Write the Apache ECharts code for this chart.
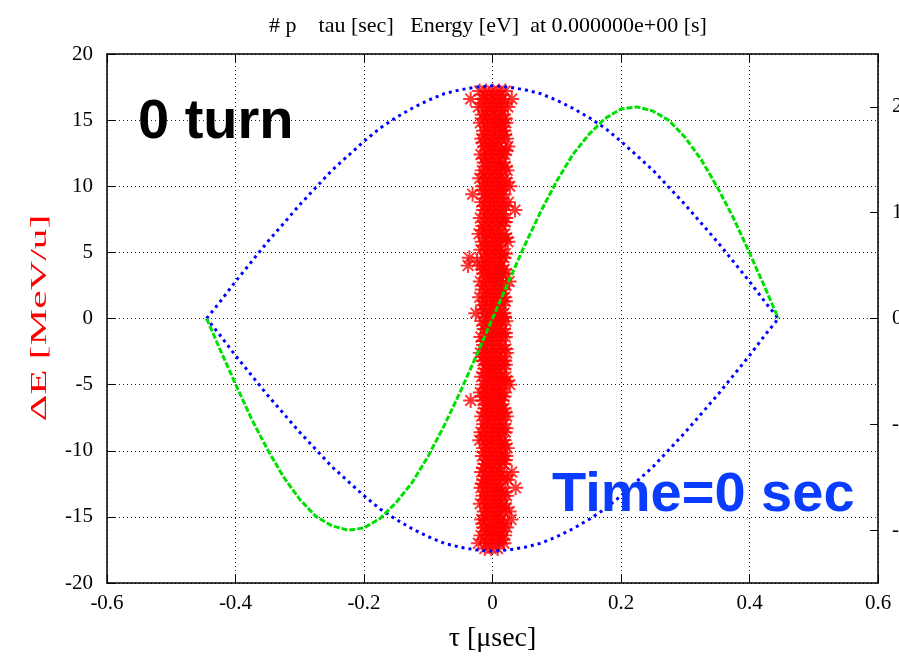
<!DOCTYPE html>
<html>
<head>
<meta charset="utf-8">
<script src="https://cdn.jsdelivr.net/npm/echarts@6/dist/echarts.min.js"></script>
<style>
html,body{margin:0;padding:0;background:#fff;}
#chart{width:899px;height:659px;}
</style>
</head>
<body>
<div id="chart"></div>
<script>
// ---- tick labels ----
const xTickLabels = ['-0.6','-0.4','-0.2','0','0.2','0.4','0.6'];
const yTickLabels = ['-20','-15','-10','-5','0','5','10','15','20'];
const y2TickValues = [-20, -10, 0, 10, 20];

// ---- separatrix (blue), tau [usec] vs dE [MeV/u] ----
const sepTau = [-0.445,-0.425,-0.4,-0.375,-0.35,-0.325,-0.3,-0.275,-0.25,-0.225,-0.2,-0.175,-0.15,-0.125,-0.1,-0.075,-0.05,-0.025,0,
  0.025,0.05,0.075,0.1,0.125,0.15,0.175,0.2,0.225,0.25,0.275,0.3,0.325,0.35,0.375,0.4,0.425,0.445];
const sepUpper = [0,1.2,2.8,4.3,5.8,7.2,8.6,9.9,11.2,12.3,13.4,14.4,15.2,15.9,16.5,17.0,17.3,17.5,17.6,
  17.5,17.3,17.0,16.5,15.9,15.2,14.4,13.4,12.3,11.2,9.9,8.6,7.2,5.8,4.3,2.8,1.2,0];
const sepLower = [0,-1.2,-2.8,-4.3,-5.8,-7.2,-8.6,-9.9,-11.2,-12.3,-13.4,-14.4,-15.2,-15.9,-16.5,-17.0,-17.3,-17.5,-17.6,
  -17.5,-17.3,-17.0,-16.5,-15.9,-15.2,-14.4,-13.4,-12.3,-11.2,-9.9,-8.6,-7.2,-5.8,-4.3,-2.8,-1.2,0];

// ---- RF voltage (green), right axis ----
const rfTau = sepTau;
const rfValue = [0,-2.8,-6.2,-9.5,-12.4,-15.0,-17.1,-18.7,-19.6,-20.0,-19.8,-18.9,-17.4,-15.5,-13.0,-10.1,-6.9,-3.5,0,
  3.5,6.9,10.1,13.0,15.5,17.4,18.9,19.8,20.0,19.6,18.7,17.1,15.0,12.4,9.5,6.2,2.8,0];

// ---- particles: rows of [dE, [tau values]] ----
const particleRowsA = [
 [17.2,[-0.020,-0.010,0.000,0.010,0.020]],
 [16.6,[-0.034,-0.015,-0.004,0.006,0.016,0.030]],
 [16.0,[-0.022,-0.009,0.002,0.012,0.024]],
 [15.4,[-0.016,-0.005,0.005,0.015]],
 [14.8,[-0.019,-0.008,0.003,0.013,0.021]],
 [14.2,[-0.014,-0.003,0.008,0.018]],
 [13.6,[-0.017,-0.006,0.004,0.014,0.022]],
 [13.0,[-0.012,-0.002,0.009,0.024]],
 [12.4,[-0.018,-0.007,0.003,0.013,0.019]],
 [11.8,[-0.013,-0.002,0.008,0.017]],
 [11.2,[-0.016,-0.006,0.005,0.015,0.023]],
 [10.6,[-0.020,-0.009,0.001,0.011,0.020]],
 [10.0,[-0.015,-0.004,0.006,0.016,0.027]],
 [9.4,[-0.031,-0.012,-0.002,0.008,0.018]],
 [8.8,[-0.017,-0.006,0.004,0.014,0.025]],
 [8.2,[-0.014,-0.004,0.007,0.017,0.035]],
 [7.6,[-0.019,-0.008,0.002,0.012,0.021]],
 [7.0,[-0.015,-0.005,0.006,0.016]],
 [6.4,[-0.021,-0.010,0.000,0.010,0.019]],
 [5.8,[-0.016,-0.006,0.004,0.014,0.024]],
 [5.2,[-0.018,-0.008,0.003,0.013]],
 [4.6,[-0.036,-0.013,-0.003,0.008,0.018]],
 [4.0,[-0.038,-0.017,-0.006,0.004,0.014]],
 [3.4,[-0.014,-0.004,0.006,0.016,0.022]],
 [2.8,[-0.019,-0.009,0.002,0.012,0.026]],
 [2.2,[-0.016,-0.005,0.005,0.015]],
 [1.6,[-0.020,-0.010,0.000,0.010,0.019]],
 [1.0,[-0.015,-0.004,0.006,0.016]],
 [0.4,[-0.026,-0.011,-0.001,0.009,0.018]],
 [-0.2,[-0.017,-0.006,0.004,0.014,0.021]],
 [-0.8,[-0.013,-0.003,0.007,0.017]],
 [-1.4,[-0.018,-0.008,0.002,0.012,0.020]],
 [-2.0,[-0.014,-0.004,0.006,0.016]],
 [-2.6,[-0.019,-0.009,0.001,0.011,0.022]],
 [-3.2,[-0.015,-0.005,0.005,0.015,0.019]],
 [-3.8,[-0.012,-0.002,0.008,0.018]],
 [-4.4,[-0.017,-0.007,0.003,0.013,0.021]],
 [-5.0,[-0.014,-0.004,0.006,0.016,0.027]],
 [-5.6,[-0.019,-0.009,0.001,0.011,0.019]],
 [-6.2,[-0.034,-0.015,-0.005,0.005,0.015]],
 [-6.8,[-0.012,-0.002,0.008,0.018]],
 [-7.4,[-0.017,-0.007,0.003,0.013,0.022]],
 [-8.0,[-0.014,-0.004,0.006,0.016]],
 [-8.6,[-0.018,-0.008,0.002,0.012,0.020]],
 [-9.2,[-0.020,-0.010,0.000,0.010,0.018]],
 [-9.8,[-0.014,-0.004,0.006,0.016,0.023]],
 [-10.4,[-0.016,-0.006,0.004,0.014,0.021]],
 [-11.0,[-0.012,-0.002,0.008,0.018]],
 [-11.6,[-0.017,-0.007,0.003,0.013,0.030]],
 [-12.2,[-0.014,-0.004,0.006,0.016,0.024]],
 [-12.8,[-0.018,-0.008,0.002,0.012,0.036]],
 [-13.4,[-0.015,-0.005,0.005,0.015,0.022]],
 [-14.0,[-0.019,-0.009,0.001,0.011,0.019]],
 [-14.6,[-0.013,-0.003,0.007,0.017,0.026]],
 [-15.2,[-0.017,-0.007,0.003,0.013,0.029]],
 [-15.8,[-0.014,-0.004,0.006,0.016,0.022]],
 [-16.4,[-0.018,-0.008,0.002,0.012,0.019]],
 [-17.0,[-0.022,-0.010,0.000,0.010,0.018]],
 [-17.4,[-0.012,-0.002,0.008]]
];
const particleRowsB = [
 [16.9,[-0.012,0.001,0.013]],
 [16.3,[-0.016,-0.004,0.008,0.019]],
 [15.7,[-0.011,0.002,0.014]],
 [15.1,[-0.013,-0.001,0.010,0.020]],
 [14.5,[-0.009,0.003,0.015]],
 [13.9,[-0.012,0.000,0.011,0.019]],
 [13.3,[-0.015,-0.003,0.009]],
 [12.7,[-0.010,0.002,0.014,0.021]],
 [12.1,[-0.013,-0.001,0.011]],
 [11.5,[-0.009,0.003,0.013,0.020]],
 [10.9,[-0.014,-0.002,0.010]],
 [10.3,[-0.011,0.001,0.012,0.022]],
 [9.7,[-0.016,-0.004,0.008,0.015]],
 [9.1,[-0.010,0.002,0.013]],
 [8.5,[-0.013,-0.001,0.010,0.021]],
 [7.9,[-0.009,0.003,0.014]],
 [7.3,[-0.012,0.000,0.011,0.020]],
 [6.7,[-0.015,-0.003,0.009]],
 [6.1,[-0.010,0.002,0.013,0.022]],
 [5.5,[-0.013,-0.001,0.010]],
 [4.9,[-0.009,0.003,0.014,0.020]],
 [4.3,[-0.024,-0.011,0.001,0.012]],
 [3.7,[-0.016,-0.004,0.008,0.018]],
 [3.1,[-0.010,0.002,0.013]],
 [2.5,[-0.013,-0.001,0.010,0.021]],
 [1.9,[-0.009,0.003,0.014]],
 [1.3,[-0.012,0.000,0.011,0.020]],
 [0.7,[-0.015,-0.003,0.009]],
 [0.1,[-0.010,0.002,0.013,0.019]],
 [-0.5,[-0.013,-0.001,0.010]],
 [-1.1,[-0.009,0.003,0.014,0.020]],
 [-1.7,[-0.014,-0.002,0.010]],
 [-2.3,[-0.011,0.001,0.012,0.021]],
 [-2.9,[-0.016,-0.004,0.008]],
 [-3.5,[-0.010,0.002,0.013,0.020]],
 [-4.1,[-0.013,-0.001,0.010]],
 [-4.7,[-0.009,0.003,0.014,0.022]],
 [-5.3,[-0.012,0.000,0.011]],
 [-5.9,[-0.015,-0.003,0.009,0.018]],
 [-6.5,[-0.010,0.002,0.013]],
 [-7.1,[-0.013,-0.001,0.010,0.020]],
 [-7.7,[-0.009,0.003,0.014]],
 [-8.3,[-0.012,0.000,0.011,0.021]],
 [-8.9,[-0.015,-0.003,0.009]],
 [-9.5,[-0.010,0.002,0.013,0.019]],
 [-10.1,[-0.013,-0.001,0.010]],
 [-10.7,[-0.009,0.003,0.014,0.020]],
 [-11.3,[-0.014,-0.002,0.010]],
 [-11.9,[-0.011,0.001,0.012,0.022]],
 [-12.5,[-0.016,-0.004,0.008]],
 [-13.1,[-0.010,0.002,0.013,0.020]],
 [-13.7,[-0.013,-0.001,0.010]],
 [-14.3,[-0.009,0.003,0.014,0.021]],
 [-14.9,[-0.012,0.000,0.011]],
 [-15.5,[-0.015,-0.003,0.009,0.019]],
 [-16.1,[-0.010,0.002,0.013]],
 [-16.7,[-0.013,-0.001,0.010,0.016]]
];

// ---- build data ----
const particles = [];
particleRowsA.concat(particleRowsB).forEach(r => r[1].forEach(t => particles.push([t, r[0]])));
const sepData = sepTau.map((t,i)=>[t,sepUpper[i]]).concat(
  sepTau.slice().reverse().map((t,i)=>[t, sepLower[sepLower.length-1-i]]));
const rfData = rfTau.map((t,i)=>[t, rfValue[i]]);

// asterisk marker path (like gnuplot '*')
function asteriskPath(){
  const w = 0.13; let d = '';
  [0,45,90,135].forEach(a=>{
    const r = a*Math.PI/180, c=Math.cos(r), s=Math.sin(r);
    const pts = [[-1,-w],[1,-w],[1,w],[-1,w]].map(p=>[p[0]*c-p[1]*s, p[0]*s+p[1]*c]);
    d += 'M' + pts.map(p=>p[0].toFixed(3)+','+p[1].toFixed(3)).join('L') + 'Z';
  });
  return 'path://' + d;
}

const serif = '"Liberation Serif","DejaVu Serif",serif';
const sans = '"Liberation Sans","Arimo",Arial,sans-serif';
const gridLine = {show:true, lineStyle:{color:'#222', width:1, type:[1,3]}};
const axisLineStyle = {show:true, onZero:false, lineStyle:{color:'#000', width:1.5}};
const tickStyle = {show:true, inside:true, length:8, lineStyle:{color:'#000', width:1}};

const chart = echarts.init(document.getElementById('chart'), null, {renderer:'canvas'});
chart.setOption({
  animation:false,
  backgroundColor:'#fff',
  title:{
    text:'# p    tau [sec]   Energy [eV]  at 0.000000e+00 [s]',
    left:483, top:10, textAlign:'center',
    textStyle:{fontFamily:serif, fontSize:22, fontWeight:'normal', color:'#000'}
  },
  grid:{left:107, right:21, top:54, bottom:76, containLabel:false, outerBoundsMode:'none'},
  xAxis:[{
    type:'value', min:-0.6, max:0.6, interval:0.2, position:'bottom',
    name:'τ [μsec]', nameLocation:'middle', nameGap:42,
    nameTextStyle:{fontFamily:serif, fontSize:28, color:'#000'},
    axisLine:axisLineStyle, axisTick:tickStyle,
    axisLabel:{fontFamily:serif, fontSize:21, color:'#000', margin:10,
      formatter:v=>xTickLabels[Math.round((v+0.6)/0.2)]},
    splitLine:gridLine
  },{
    type:'value', min:-0.6, max:0.6, interval:0.2, position:'top',
    axisLine:axisLineStyle, axisTick:tickStyle,
    axisLabel:{show:false}, splitLine:{show:false}
  }],
  yAxis:[{
    type:'value', min:-20, max:20, interval:5, position:'left',
    axisLine:axisLineStyle, axisTick:tickStyle,
    axisLabel:{fontFamily:serif, fontSize:21, color:'#000', margin:14,
      formatter:v=>yTickLabels[Math.round((v+20)/5)]},
    splitLine:gridLine
  },{
    type:'value', min:-25, max:25, position:'right',
    axisLine:axisLineStyle,
    axisTick:Object.assign({}, tickStyle, {customValues:y2TickValues}),
    axisLabel:{show:true, fontFamily:serif, fontSize:21, color:'#000', margin:14, customValues:y2TickValues,
      formatter:v=>String(v)},
    splitLine:{show:false}
  }],
  graphic:[
    {type:'text', x:40, y:318, rotation:Math.PI/2, scaleX:1.72, z:100,
     style:{text:'ΔE [MeV/u]', fontFamily:serif, fontSize:24, fill:'#ff0000',
            align:'center', verticalAlign:'middle'}},
    {type:'text', left:138, top:95, z:100,
     style:{text:'0 turn', fontFamily:sans, fontWeight:'bold', fontSize:56, fill:'#000'}},
    {type:'text', left:552, top:468, z:100,
     style:{text:'Time=0 sec', fontFamily:sans, fontWeight:'bold', fontSize:56, fill:'#0a3cff'}}
  ],
  series:[
    {type:'scatter', name:'particles', data:particles, xAxisIndex:0, yAxisIndex:0,
     symbol:asteriskPath(), symbolSize:15, itemStyle:{color:'#ff0000'}, z:2},
    {type:'line', name:'separatrix', data:sepData, xAxisIndex:0, yAxisIndex:0,
     showSymbol:false, symbol:'none', smooth:false,
     lineStyle:{color:'#0000ff', width:3, type:[3,4]}, z:3},
    {type:'line', name:'rf', data:rfData, xAxisIndex:0, yAxisIndex:1,
     showSymbol:false, symbol:'none', smooth:false,
     lineStyle:{color:'#00e000', width:3, type:[6,2]}, z:3}
  ]
});
</script>
</body>
</html>
